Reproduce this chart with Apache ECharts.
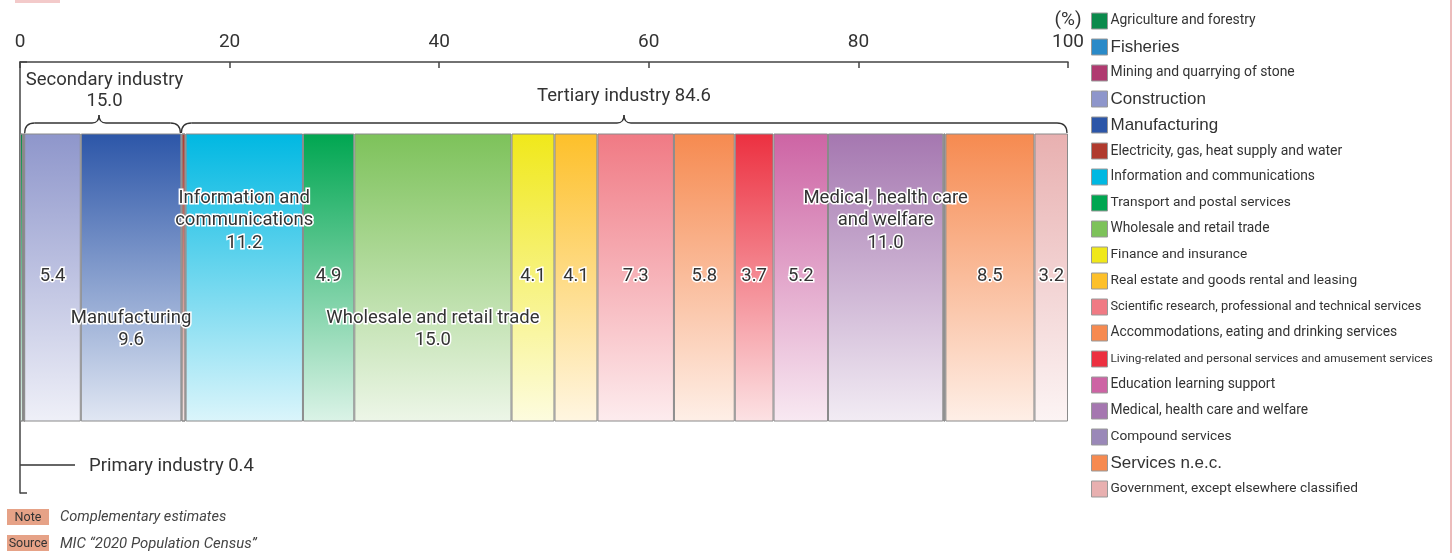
<!DOCTYPE html>
<html>
<head>
<meta charset="utf-8">
<script src="https://cdn.jsdelivr.net/npm/echarts@6/dist/echarts.min.js"></script>
<style>
html,body{margin:0;padding:0;background:#fff;}
#chart{width:1452px;height:553px;}
</style>
</head>
<body>
<div id="chart"></div>
<script>
// ---- data ----
const categories = [
  'Agriculture and forestry', 'Fisheries', 'Mining and quarrying of stone', 'Construction',
  'Manufacturing', 'Electricity, gas, heat supply and water', 'Information and communications',
  'Transport and postal services', 'Wholesale and retail trade', 'Finance and insurance',
  'Real estate and goods rental and leasing', 'Scientific research, professional and technical services',
  'Accommodations, eating and drinking services', 'Living-related and personal services and amusement services',
  'Education learning support', 'Medical, health care and welfare', 'Compound services',
  'Services n.e.c.', 'Government, except elsewhere classified'
];
const shares = [0.3, 0.1, 0.0, 5.4, 9.6, 0.4, 11.2, 4.9, 15.0, 4.1, 4.1, 7.3, 5.8, 3.7, 5.2, 11.0, 0.2, 8.5, 3.2];
const colors = ['#0b8a4c', '#2a8ac8', '#b03a70', '#8e96cb', '#2c56a8', '#b03a2e', '#00b8e2',
  '#00a651', '#7dc25a', '#f0e81a', '#fdc02a', '#f07a84', '#f68a50', '#ec3040', '#cd64a4',
  '#a577b0', '#9a88b8', '#f68a50', '#e8b0b0'];
// labels drawn inside bars (null = no label, '' = value only)
const insideNames = [null, null, null, '', 'Manufacturing', null, 'Information and\ncommunications',
  '', 'Wholesale and retail trade', '', '', '', '', '', '', 'Medical, health care\nand welfare', null, '', ''];
const groupNames = ['Primary industry', 'Secondary industry', 'Tertiary industry'];
const groupTotals = [0.4, 15.0, 84.6];
const groupSizes = [2, 3, 14];
const axisTicks = [0, 20, 40, 60, 80, 100];
const noteText = 'Complementary estimates';
const sourceText = 'MIC \u201c2020 Population Census\u201d';

// ---- style helpers ----
const mctx = document.createElement('canvas').getContext('2d');
function hasFont(name) {
  mctx.font = '40px monospace';
  const a = mctx.measureText('abcdefghijklmnopqrstuvwxyz0123').width;
  mctx.font = '40px "' + name + '", monospace';
  const b = mctx.measureText('abcdefghijklmnopqrstuvwxyz0123').width;
  return Math.abs(a - b) > 0.5;
}
const NARROW = hasFont('Liberation Sans Narrow') ? '"Liberation Sans Narrow", sans-serif' : 'Roboto, sans-serif';
const WIDE = '"Liberation Sans", Arial, sans-serif';
function fit(text, family, target, style) {
  mctx.font = (style || '') + ' 100px ' + family;
  return Math.round(1000 * target / mctx.measureText(text).width) / 10;
}
function mix(hex, t) {
  const n = parseInt(hex.slice(1), 16);
  const r = (n >> 16) & 255, g = (n >> 8) & 255, b = n & 255;
  const f = c => Math.round(c + (255 - c) * t);
  return 'rgb(' + f(r) + ',' + f(g) + ',' + f(b) + ')';
}
// reference text widths (layout styling)
const legendTextWidths = [145, 72, 185, 104, 118, 231, 204, 181, 159, 137, 247, 312, 287, 322, 165, 197, 121, 118, 248];
const wideLegend = [1, 3, 4, 17];
const LBL = Math.min(fit('Secondary industry', NARROW, 158), 22);
const labelOffsets = {4: 52, 6: -57, 8: 52, 15: -57};

const legendRich = {};
categories.forEach((n, i) => {
  const wide = wideLegend.indexOf(i) >= 0;
  const fam = wide ? WIDE : NARROW;
  const sz = Math.min(fit(n, fam, legendTextWidths[i]), wide ? 17 : 16);
  legendRich['r' + i] = {fontFamily: fam, fontSize: sz, color: '#333', lineHeight: 16, height: 16};
});

const chart = echarts.init(document.getElementById('chart'));

const series = categories.map((name, i) => {
  const lbl = insideNames[i];
  return {
    name: name,
    type: 'bar',
    stack: 'total',
    barWidth: 288,
    data: [shares[i]],
    itemStyle: {
      color: new echarts.graphic.LinearGradient(0, 0, 0, 1, [
        {offset: 0, color: colors[i]},
        {offset: 1, color: mix(colors[i], 0.86)}
      ]),
      borderColor: '#8a8a8a',
      borderWidth: 1
    },
    emphasis: {disabled: true},
    label: {
      show: lbl !== null,
      position: 'inside',
      offset: [0, labelOffsets[i] || -1],
      formatter: () => (lbl ? lbl + '\n' : '') + shares[i].toFixed(1),
      color: '#333',
      fontFamily: NARROW,
      fontSize: LBL,
      lineHeight: 22.5,
      textBorderColor: '#fff',
      textBorderWidth: 3,
      align: 'center'
    }
  };
});

const option = {
  animation: false,
  backgroundColor: '#fff',
  grid: {left: 20, width: 1048, top: 62, height: 431, containLabel: false},
  xAxis: {
    type: 'value', position: 'top', min: 0, max: 100, interval: 20,
    axisLine: {show: true, lineStyle: {color: '#444', width: 1.5}},
    axisTick: {show: true, inside: true, length: 6, lineStyle: {color: '#444', width: 1.5}},
    axisLabel: {
      fontFamily: NARROW, fontSize: 19, color: '#333', margin: 10,
      formatter: v => axisTicks.indexOf(v) >= 0 ? String(v) : ''
    },
    splitLine: {show: false}
  },
  yAxis: {
    type: 'category', data: [''],
    axisLine: {show: true, lineStyle: {color: '#444', width: 1.5}},
    axisTick: {show: true, inside: true, length: 7, lineStyle: {color: '#444', width: 1.5}},
    axisLabel: {show: false}
  },
  legend: {
    orient: 'vertical', left: 1091, top: 12.5, padding: 0,
    itemWidth: 16, itemHeight: 16, itemGap: 9,
    icon: 'rect',
    selectedMode: false,
    data: categories.map((n, i) => ({name: n, itemStyle: {color: colors[i], borderColor: '#999', borderWidth: 1}})),
    formatter: n => '{r' + categories.indexOf(n) + '|' + n + '}',
    textStyle: {color: '#333', lineHeight: 16, height: 16, padding: [0, 0, 0, -2], rich: legendRich}
  },
  series: series
};
chart.setOption(option);

// ---- annotations positioned from the data scale ----
const X = v => chart.convertToPixel({xAxisIndex: 0}, v);
const cum = [0];
shares.forEach(s => cum.push(cum[cum.length - 1] + s));
let idx = 0;
const groupRanges = groupSizes.map(sz => { const r = [cum[idx], cum[idx + sz]]; idx += sz; return r; });

const LS = {stroke: '#333', lineWidth: 1.3, fill: null};
function brace(xa, xb, xm) {
  const yb = 133, yl = 123, yc = 115;
  return [
    {type: 'bezierCurve', shape: {x1: xa, y1: yb, cpx1: xa, cpy1: yl, x2: xa + 10, y2: yl}, style: LS},
    {type: 'line', shape: {x1: xa + 10, y1: yl, x2: xm - 7, y2: yl}, style: LS},
    {type: 'bezierCurve', shape: {x1: xm - 7, y1: yl, cpx1: xm, cpy1: yl, x2: xm, y2: yc}, style: LS},
    {type: 'bezierCurve', shape: {x1: xm, y1: yc, cpx1: xm, cpy1: yl, x2: xm + 7, y2: yl}, style: LS},
    {type: 'line', shape: {x1: xm + 7, y1: yl, x2: xb - 10, y2: yl}, style: LS},
    {type: 'bezierCurve', shape: {x1: xb - 10, y1: yl, cpx1: xb, cpy1: yl, x2: xb, y2: yb}, style: LS}
  ];
}
const txt = (x, y, t, o) => ({
  type: 'text', x: x, y: y,
  style: Object.assign({text: t, fill: '#333', font: LBL + 'px ' + NARROW, textAlign: 'center', textVerticalAlign: 'middle'}, o || {})
});

const s0 = X(groupRanges[1][0]) + 0.5, s1 = X(groupRanges[1][1]) - 1;
const t0 = X(groupRanges[2][0]), t1 = X(groupRanges[2][1]) - 1;
const sm = Math.round((s0 + s1) / 2) - 4, tm = Math.round((t0 + t1) / 2);
const x0 = X(0);
const noteSize = fit(noteText, NARROW, 166, 'italic');
const srcSize = fit(sourceText, NARROW, 197, 'italic');

chart.setOption({
  graphic: [].concat(
    [
      {type: 'rect', shape: {x: 15, y: 0, width: 45, height: 3}, style: {fill: '#f3caca'}},
      {type: 'line', shape: {x1: 1451, y1: 0, x2: 1451, y2: 553}, style: {stroke: '#e6a6a6', lineWidth: 1.5}}
    ],
    brace(s0, s1, sm),
    brace(t0, t1, tm),
    [
      txt((s0 + s1) / 2 + 2, 80, groupNames[1]),
      txt((s0 + s1) / 2 + 2, 101, groupTotals[1].toFixed(1)),
      txt(tm, 96, groupNames[2] + ' ' + groupTotals[2].toFixed(1)),
      {type: 'line', shape: {x1: x0, y1: 465, x2: x0 + 55, y2: 465}, style: {stroke: '#333', lineWidth: 1.3}},
      txt(x0 + 69, 466, groupNames[0] + ' ' + groupTotals[0].toFixed(1), {textAlign: 'left'}),
      txt(1068, 20, '(%)', {font: '19px ' + NARROW}),
      {type: 'rect', shape: {x: 7, y: 509, width: 42, height: 16}, style: {fill: '#e6a287'}},
      txt(28, 517.5, 'Note', {font: '12.5px ' + NARROW}),
      txt(60, 517, noteText, {textAlign: 'left', font: 'italic ' + noteSize + 'px ' + NARROW, fill: '#444'}),
      {type: 'rect', shape: {x: 7, y: 535, width: 42, height: 16}, style: {fill: '#e6a287'}},
      txt(28, 543.5, 'Source', {font: '12.5px ' + NARROW}),
      txt(60, 544, sourceText, {textAlign: 'left', font: 'italic ' + srcSize + 'px ' + NARROW, fill: '#444'})
    ]
  )
});
</script>
</body>
</html>
